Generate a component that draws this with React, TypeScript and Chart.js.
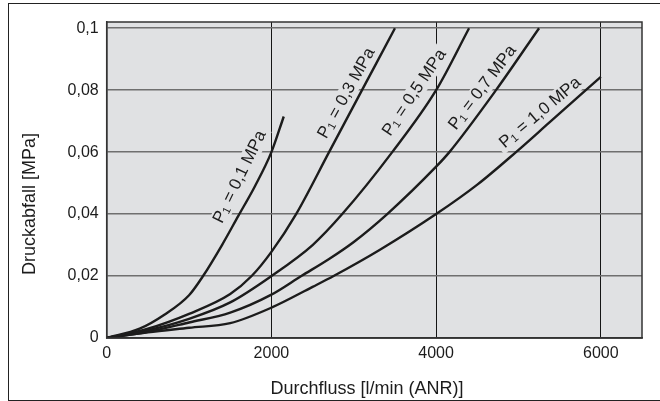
import React, { useEffect, useRef } from "react";
import { Chart, registerables } from "chart.js";

Chart.register(...registerables);

// ---- data ----
const flowP01 = [0, 400, 700, 1000, 1170, 1400, 1600, 1800, 2000, 2150];
const dropP01 = [0, 0.003, 0.0075, 0.0138, 0.02, 0.03, 0.0395, 0.049, 0.06, 0.0715];

const flowP03 = [0, 500, 1000, 1500, 1760, 2000, 2300, 2700, 3100, 3500];
const dropP03 = [0, 0.003, 0.0078, 0.0142, 0.02, 0.0278, 0.04, 0.06, 0.08, 0.1];

const flowP05 = [0, 500, 1000, 1500, 2000, 2500, 2860, 3467, 4000, 4400];
const dropP05 = [0, 0.0025, 0.0062, 0.0115, 0.02, 0.03, 0.04, 0.06, 0.08, 0.1];

const flowP07 = [0, 500, 1000, 1500, 2000, 2363, 2700, 3000, 3406, 4000, 4161, 4727, 5250];
const dropP07 = [0, 0.002, 0.005, 0.0082, 0.014, 0.02, 0.0255, 0.031, 0.04, 0.0553, 0.06, 0.08, 0.1];

const flowP10 = [0, 500, 1000, 1500, 2000, 2500, 2755, 3313, 4000, 4500, 4970, 5373, 6000];
const dropP10 = [0, 0.0018, 0.0033, 0.0048, 0.0098, 0.0165, 0.02, 0.0284, 0.04, 0.0495, 0.06, 0.0695, 0.0843];

const pressureLabels = ["0,1", "0,3", "0,5", "0,7", "1,0"];

const xTickValues = [0, 2000, 4000, 6000];
const xTickLabels = ["0", "2000", "4000", "6000"];
const yTickValues = [0, 0.02, 0.04, 0.06, 0.08, 0.1];
const yTickLabels = ["0", "0,02", "0,04", "0,06", "0,08", "0,1"];

const xTitle = "Durchfluss [l/min (ANR)]";
const yTitle = "Druckabfall [MPa]";

// label anchors (data coordinates) and text angles (degrees)
const labelFlow = [1616, 2913, 3737, 4565, 5264];
const labelDrop = [0.052, 0.079, 0.0792, 0.0808, 0.0727];
const labelAngle = [64, 61, 56, 53, 40];

const FONT = '"Liberation Sans", Arial, Helvetica, sans-serif';
const PLOT_BG = "#e0e1e3";
const INK = "#1c1c1c";

function toPoints(xs: number[], ys: number[]) {
  return xs.map((x, i) => ({ x, y: ys[i] }));
}

function drawCurveLabels(chart: any, bgOnly: boolean) {
  const { ctx, scales } = chart;
  const xs = scales.x;
  const ys = scales.y;
  const mainFont = `17px ${FONT}`;
  const subFont = `11px ${FONT}`;
  pressureLabels.forEach((val, i) => {
    const px = xs.getPixelForValue(labelFlow[i]);
    const py = ys.getPixelForValue(labelDrop[i]);
    ctx.save();
    ctx.translate(px, py);
    ctx.rotate((-labelAngle[i] * Math.PI) / 180);
    ctx.font = mainFont;
    const wP = ctx.measureText("P").width;
    const rest = " = " + val + " MPa";
    const wR = ctx.measureText(rest).width;
    ctx.font = subFont;
    const w1 = ctx.measureText("1").width + 0.5;
    const total = wP + w1 + wR;
    const x0 = -total / 2;
    if (bgOnly) {
      ctx.fillStyle = PLOT_BG;
      ctx.fillRect(x0 - 4, -9, total + 8, 18);
    } else {
      ctx.fillStyle = INK;
      ctx.textAlign = "left";
      ctx.textBaseline = "middle";
      ctx.font = mainFont;
      ctx.fillText("P", x0, 0);
      ctx.font = subFont;
      ctx.fillText("1", x0 + wP, 3.5);
      ctx.font = mainFont;
      ctx.fillText(rest, x0 + wP + w1, 0);
    }
    ctx.restore();
  });
}

const decorPlugin = {
  id: "decor",
  beforeDraw(chart: any) {
    const { ctx, chartArea: a } = chart;
    ctx.save();
    ctx.fillStyle = PLOT_BG;
    ctx.fillRect(a.left, a.top, a.right - a.left, a.bottom - a.top);
    ctx.restore();
  },
  beforeDatasetsDraw(chart: any) {
    drawCurveLabels(chart, true);
  },
  afterDatasetsDraw(chart: any) {
    drawCurveLabels(chart, false);
  },
  afterDraw(chart: any) {
    const { ctx, chartArea: a } = chart;
    ctx.save();
    ctx.strokeStyle = "#333";
    ctx.lineWidth = 1.5;
    ctx.strokeRect(a.left, a.top, a.right - a.left, a.bottom - a.top);
    ctx.fillStyle = INK;
    ctx.font = `18px ${FONT}`;
    ctx.textAlign = "center";
    ctx.textBaseline = "middle";
    ctx.fillText(xTitle, 367, 389);
    ctx.translate(30, 204);
    ctx.rotate(-Math.PI / 2);
    ctx.fillText(yTitle, 0, 0);
    ctx.restore();
  },
};

export default function App() {
  const ref = useRef<HTMLCanvasElement | null>(null);

  useEffect(() => {
    if (!ref.current) return;
    const series = [
      toPoints(flowP01, dropP01),
      toPoints(flowP03, dropP03),
      toPoints(flowP05, dropP05),
      toPoints(flowP07, dropP07),
      toPoints(flowP10, dropP10),
    ];
    const chart = new Chart(ref.current, {
      type: "line",
      data: {
        datasets: series.map((data, i) => ({
          label: "P1 = " + pressureLabels[i] + " MPa",
          data,
          borderColor: INK,
          borderWidth: 2.4,
          pointRadius: 0,
          fill: false,
          cubicInterpolationMode: "monotone" as const,
        })),
      },
      options: {
        animation: false,
        responsive: false,
        devicePixelRatio: 1,
        layout: { padding: { top: 22, right: 18, bottom: 0, left: 0 } },
        plugins: {
          legend: { display: false },
          tooltip: { enabled: false },
        },
        scales: {
          x: {
            type: "linear",
            min: 0,
            max: 6500,
            afterBuildTicks: (s: any) => {
              s.ticks = xTickValues.map((v) => ({ value: v }));
            },
            afterFit: (s: any) => {
              s.height = 63;
            },
            ticks: {
              callback: (_v: any, i: number) => xTickLabels[i],
              font: { family: FONT, size: 16 },
              color: INK,
              padding: 6,
              maxRotation: 0,
            },
            grid: { color: "#151515", lineWidth: 1, drawTicks: false },
            border: { display: true, color: "#333", width: 1.5 },
          },
          y: {
            type: "linear",
            min: 0,
            max: 0.102,
            afterBuildTicks: (s: any) => {
              s.ticks = yTickValues.map((v) => ({ value: v }));
            },
            afterFit: (s: any) => {
              s.width = 106.7;
            },
            ticks: {
              callback: (_v: any, i: number) => yTickLabels[i],
              font: { family: FONT, size: 16 },
              color: INK,
              padding: 8,
            },
            grid: { color: "#6f6f6f", lineWidth: 1.5, drawTicks: false },
            border: { display: true, color: "#333", width: 1.5 },
          },
        },
      },
      plugins: [decorPlugin],
    } as any);
    return () => chart.destroy();
  }, []);

  return (
    <div style={{ position: "fixed", left: 0, top: 0, width: 660, height: 401, overflow: "hidden", background: "#fff" }}>
      <canvas ref={ref} width={660} height={401} style={{ position: "absolute", left: 0, top: 0, width: 660, height: 401 }} />
      <div
        style={{
          position: "absolute",
          left: 7.5,
          top: 3,
          width: 700,
          height: 398,
          boxSizing: "border-box",
          border: "1.5px solid #222",
          pointerEvents: "none",
        }}
      />
    </div>
  );
}
